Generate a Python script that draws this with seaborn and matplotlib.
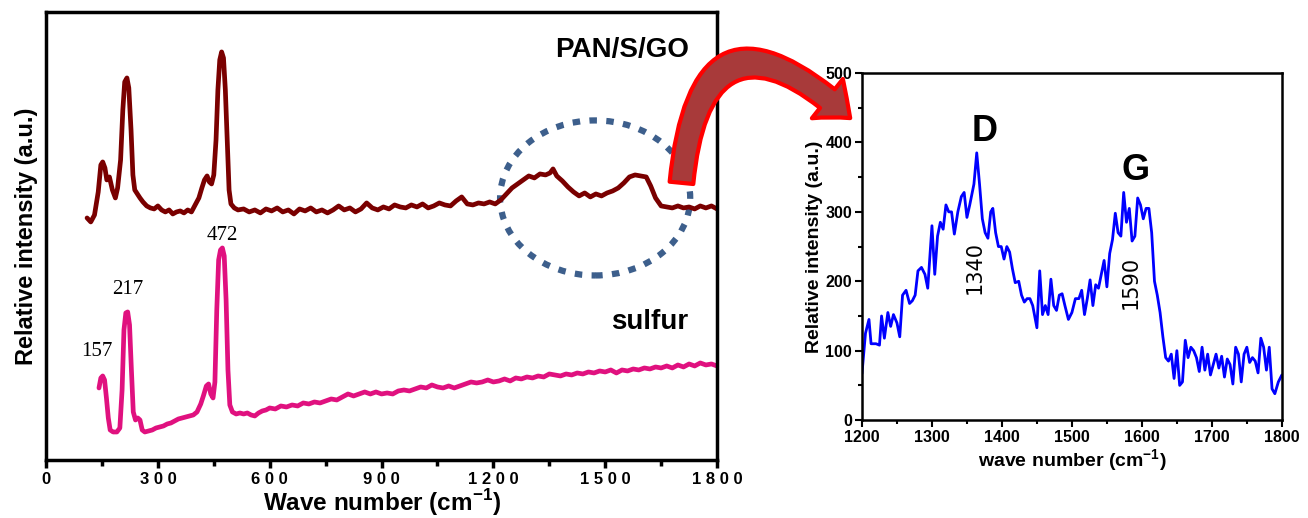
import numpy as np
import pandas as pd
import matplotlib.pyplot as plt
import seaborn as sns
from matplotlib.patches import Ellipse, FancyArrowPatch
from matplotlib.ticker import MultipleLocator

# PAN/S/GO raman trace (left panel, offset units)
pan_x = [110, 120, 130, 140, 147, 152, 158, 163, 170, 178, 186, 192, 200, 206, 211, 217, 222, 228, 233, 238,
         245, 252, 260, 270, 280, 290, 300, 310, 320, 330, 340, 350, 360, 370, 380, 390, 400, 410, 418, 425,
         432, 438, 444, 450, 456, 461, 466, 471, 476, 481, 486, 491, 496, 505, 515, 530, 545, 560, 575, 590,
         605, 620, 635, 650, 665, 680, 695, 710, 725, 740, 755, 770, 785, 800, 815, 830, 845, 860, 875, 890,
         905, 920, 935, 950, 965, 980, 995, 1010, 1025, 1040, 1055, 1070, 1085, 1100, 1115, 1130, 1145, 1160,
         1175, 1190, 1205, 1220, 1235, 1250, 1265, 1280, 1295, 1310, 1325, 1340, 1352, 1360, 1370, 1385, 1400,
         1415, 1430, 1445, 1460, 1475, 1490, 1505, 1520, 1535, 1550, 1565, 1580, 1595, 1610, 1622, 1635, 1650,
         1665, 1680, 1695, 1710, 1725, 1740, 1755, 1770, 1785, 1800]
pan_y = [242, 238, 245, 268, 295, 298, 292, 280, 283, 270, 262, 272, 300, 350, 378, 382, 372, 330, 285, 270,
         266, 262, 258, 254, 252, 251, 254, 250, 248, 250, 246, 248, 249, 247, 250, 248, 255, 262, 272, 280,
         284, 278, 276, 285, 320, 370, 400, 408, 402, 370, 320, 270, 256, 252, 250, 251, 248, 250, 247, 251,
         249, 252, 248, 250, 246, 251, 249, 252, 248, 250, 247, 250, 254, 250, 252, 248, 251, 257, 252, 250,
         253, 251, 255, 253, 252, 255, 253, 256, 252, 254, 257, 255, 254, 259, 263, 256, 255, 257,
         256, 258, 256, 260, 266, 272, 276, 280, 284, 282, 286, 285, 287, 291, 284, 279, 273,
         268, 264, 267, 263, 266, 264, 267, 269, 272, 277, 283, 285, 284, 283, 274, 262, 254,
         253, 252, 254, 252, 253, 251, 254, 252, 254, 251]

# sulfur raman trace (left panel)
sul_x = [142, 147, 152, 157, 162, 167, 172, 180, 190, 198, 204, 209, 214, 219, 224, 229, 234, 240, 246, 252,
         258, 265, 275, 285, 295, 305, 315, 325, 335, 345, 355, 365, 375, 385, 395, 405, 415, 422, 430, 436,
         442, 448, 453, 458, 463, 468, 473, 478, 483, 488, 493, 500, 510, 520, 530, 540, 550, 560, 570, 580,
         590, 600, 615, 630, 645, 660, 675, 690, 705, 720, 735, 750, 765, 780, 795, 810, 825, 840, 855, 870,
         885, 900, 915, 930, 945, 960, 975, 990, 1005, 1020, 1035, 1050, 1065, 1080, 1095, 1110, 1125, 1140,
         1155, 1170, 1185, 1200, 1215, 1230, 1245, 1260, 1275, 1290, 1305, 1320, 1335, 1350, 1365, 1380, 1395,
         1410, 1425, 1440, 1455, 1470, 1485, 1500, 1515, 1530, 1545, 1560, 1575, 1590, 1605, 1620, 1635, 1650,
         1665, 1680, 1695, 1710, 1725, 1740, 1755, 1770, 1785, 1800]
sul_y = [72, 82, 84, 80, 62, 42, 30, 28, 28, 32, 70, 130, 147, 148, 135, 90, 48, 40, 42, 40,
         30, 28, 29, 30, 32, 33, 34, 36, 37, 39, 41, 42, 43, 44, 45, 48, 56, 64, 74, 76,
         66, 62, 78, 150, 200, 210, 212, 204, 160, 90, 55, 48, 46, 47, 46, 47, 45, 44, 47, 49,
         50, 52, 51, 54, 53, 55, 54, 57, 56, 58, 57, 59, 61, 60, 63, 66, 64, 66, 68, 66,
         68, 66, 67, 66, 69, 70, 69, 71, 73, 72, 75, 73, 72, 74, 72, 74, 76, 78,
         77, 78, 80, 78, 79, 81, 79, 82, 81, 83, 82, 84, 83, 86, 85, 84, 86,
         85, 87, 86, 88, 87, 89, 88, 90, 87, 90, 89, 91, 90, 92, 91, 93, 92,
         94, 92, 95, 93, 96, 94, 97, 95, 96, 94]

# zoomed PAN/S/GO spectrum (right panel)
zoom_x = [1200, 1205, 1210, 1213, 1220, 1225, 1228, 1232, 1237, 1241, 1245, 1250, 1254, 1258, 1263, 1268,
          1272, 1276, 1280, 1285, 1290, 1294, 1300, 1304, 1308, 1312, 1316, 1320, 1324, 1328, 1332, 1337,
          1342, 1346, 1350, 1354, 1360, 1364, 1368, 1372, 1376, 1380, 1384, 1387, 1391, 1395, 1399, 1403,
          1407, 1411, 1415, 1419, 1424, 1428, 1432, 1436, 1440, 1444, 1450, 1454, 1458, 1462, 1466, 1470,
          1474, 1478, 1482, 1486, 1490, 1495, 1500, 1505, 1510, 1514, 1518, 1522, 1526, 1530, 1534, 1538,
          1542, 1546, 1550, 1554, 1558, 1562, 1566, 1570, 1574, 1578, 1582, 1586, 1590, 1594, 1598, 1602,
          1606, 1610, 1614, 1618, 1622, 1626, 1630, 1634, 1638, 1642, 1646, 1650, 1654, 1658, 1662, 1666,
          1670, 1674, 1678, 1682, 1686, 1690, 1694, 1698, 1702, 1706, 1710, 1714, 1718, 1722, 1726, 1730,
          1734, 1738, 1742, 1746, 1750, 1754, 1758, 1762, 1766, 1770, 1774, 1778, 1782, 1786, 1790, 1795, 1800]
zoom_y = [67, 125, 145, 110, 110, 108, 150, 118, 155, 135, 152, 140, 120, 180, 187, 168,
          172, 180, 215, 220, 210, 190, 280, 210, 265, 285, 275, 310, 300, 300, 268, 300,
          322, 328, 292, 310, 340, 385, 340, 290, 270, 262, 300, 305, 270, 250, 250, 232,
          250, 242, 218, 198, 200, 180, 170, 175, 175, 165, 133, 215, 152, 165, 152, 203,
          165, 158, 180, 182, 165, 145, 155, 175, 175, 187, 152, 175, 202, 165, 195, 190,
          210, 230, 192, 240, 260, 298, 270, 265, 328, 285, 305, 258, 265, 320, 310, 290,
          305, 305, 270, 200, 180, 155, 120, 90, 85, 95, 60, 100, 50, 55, 115, 90,
          105, 100, 90, 70, 105, 72, 95, 65, 80, 95, 75, 92, 62, 88, 80, 52,
          105, 95, 55, 95, 105, 83, 90, 85, 68, 118, 105, 72, 105, 45, 38, 55, 65]

sns.set_style("ticks")
plt.rcParams["font.family"] = ["Liberation Sans", "DejaVu Sans"]
plt.rcParams["mathtext.fontset"] = "custom"
plt.rcParams["mathtext.rm"] = "Liberation Sans"
plt.rcParams["mathtext.bf"] = "Liberation Sans:bold"
for k in ["text.color", "axes.labelcolor", "xtick.color", "ytick.color"]:
    plt.rcParams[k] = "black"

fig = plt.figure(figsize=(13.08, 5.18), dpi=100)
ax1 = fig.add_axes([0.0352, 0.112, 0.513, 0.865])
ax2 = fig.add_axes([0.659, 0.189, 0.321, 0.670])

# left panel
sns.lineplot(x=pan_x, y=pan_y, ax=ax1, color="#7a0000", lw=3.4, sort=False)
sns.lineplot(x=sul_x, y=sul_y, ax=ax1, color="#e0117f", lw=3.4, sort=False)
ax1.set_xlim(0, 1800)
ax1.set_ylim(0, 448)
ax1.set_yticks([])
ax1.xaxis.set_minor_locator(MultipleLocator(150))
ax1.set_xticks([0, 300, 600, 900, 1200, 1500, 1800])
ax1.set_xticklabels(["0", "3 0 0", "6 0 0", "9 0 0", "1 2 0 0", "1 5 0 0", "1 8 0 0"],
                    fontsize=12, fontweight="bold")
ax1.tick_params(axis="x", which="major", length=6, width=2.5, direction="out", pad=3)
ax1.tick_params(axis="x", which="minor", length=4, width=2.5, direction="out")
for s in ax1.spines.values():
    s.set_linewidth(2.5)
    s.set_color("black")
ax1.set_xlabel("Wave number (cm$^{\\mathbf{-1}}$)", fontsize=17.5, fontweight="bold", labelpad=0)
ax1.set_ylabel("Relative intensity (a.u.)", fontsize=17, fontweight="bold", labelpad=6)

circle = Ellipse((1473, 262), 510, 155, fill=False, ec="#3d5f8c", lw=4.5,
                 ls=(0, (1.2, 1.5)), clip_on=False)
ax1.add_patch(circle)

ax1.text(1545, 410, "PAN/S/GO", fontsize=20, fontweight="bold", ha="center", va="center")
ax1.text(1620, 138, "sulfur", fontsize=20, fontweight="bold", ha="center", va="center")
for lab, xx, yy in [("472", 472, 224), ("217", 220, 170), ("157", 137, 108)]:
    ax1.text(xx, yy, lab, fontsize=15, family="Liberation Serif", ha="center", va="center")

# right panel
sns.lineplot(x=zoom_x, y=zoom_y, ax=ax2, color="#0000ff", lw=2, sort=False)
ax2.set_xlim(1200, 1800)
ax2.set_ylim(0, 500)
ax2.set_xticks([1200, 1300, 1400, 1500, 1600, 1700, 1800])
ax2.set_yticks([0, 100, 200, 300, 400, 500])
ax2.xaxis.set_minor_locator(MultipleLocator(50))
ax2.yaxis.set_minor_locator(MultipleLocator(50))
ax2.tick_params(which="major", length=5, width=1.5, direction="out", labelsize=11.5, pad=2)
ax2.tick_params(which="minor", length=3, width=1.5, direction="out")
for lab in ax2.get_xticklabels() + ax2.get_yticklabels():
    lab.set_fontweight("bold")
for s in ax2.spines.values():
    s.set_linewidth(1.8)
    s.set_color("black")
ax2.set_xlabel("wave number (cm$^{\\mathbf{-1}}$)", fontsize=14, fontweight="bold", labelpad=2)
ax2.set_ylabel("Relative intensity (a.u.)", fontsize=14, fontweight="bold", labelpad=2)

ax2.text(1375, 416, "D", fontsize=26, fontweight="bold", ha="center", va="center")
ax2.text(1591, 360, "G", fontsize=26, fontweight="bold", ha="center", va="center")
ax2.text(1361, 220, "1340", fontsize=15, family="DejaVu Sans", rotation=90, ha="center", va="center")
ax2.text(1584, 199, "1590", fontsize=15, family="DejaVu Sans", rotation=90, ha="center", va="center")

# curved red arrow linking the two panels
arrow = FancyArrowPatch(posA=(0.521, 0.647), posB=(0.650, 0.772), transform=fig.transFigure,
                        connectionstyle="arc3,rad=-1.0",
                        arrowstyle="simple,head_width=2.0,head_length=1.2,tail_width=0.95",
                        mutation_scale=18, fc="#a83a3a", ec="#ff0000", lw=3,
                        shrinkA=0, shrinkB=0, zorder=10)
fig.add_artist(arrow)

fig.savefig("out.png", dpi=100)
